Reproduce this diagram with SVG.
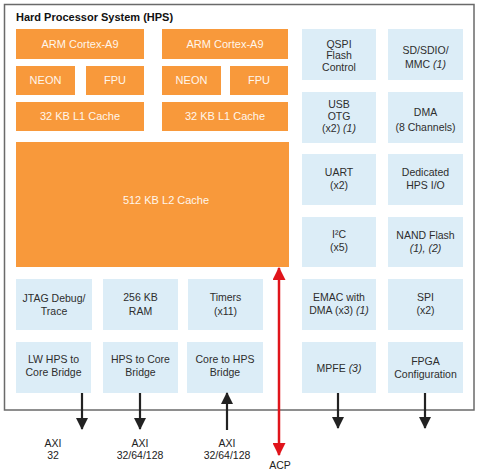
<svg xmlns="http://www.w3.org/2000/svg" width="484" height="472" viewBox="0 0 484 472">
<defs>
<style>
text{font-family:"Liberation Sans",Arial,sans-serif;font-size:10.5px;text-anchor:middle}
.o{fill:#F8993B}
.b{fill:#DCEDF7}
.ot{fill:#FFF6EC;font-size:11px}
.bt{fill:#2E2E2E}
.i{font-style:italic}
.title{font-weight:bold;font-size:11px;text-anchor:start;fill:#111}
.lbl{fill:#222}
.ar{stroke:#222;stroke-width:2.2;fill:none}
.red{stroke:#E0141B;stroke-width:2.5;fill:none}
</style>
<marker id="ah" viewBox="0 0 12 12" refX="11" refY="6" markerWidth="12" markerHeight="12" markerUnits="userSpaceOnUse" orient="auto"><path d="M0,0L12,6L0,12z" fill="#222"/></marker>
<marker id="rh" viewBox="0 0 12 12" refX="11" refY="6" markerWidth="13" markerHeight="13" markerUnits="userSpaceOnUse" orient="auto-start-reverse"><path d="M0,0L12,6L0,12z" fill="#E0141B"/></marker>
</defs>
<rect width="484" height="472" fill="#fff"/>
<rect id="hps" x="4.5" y="4.5" width="469.5" height="405.5" fill="#fff" stroke="#6a6a6a" stroke-width="1.5"/>
<text class="title" x="16" y="21">Hard Processor System (HPS)</text>

<g id="arm1"><rect class="o" x="16" y="29" width="128" height="30"/><text class="ot" x="80" y="48">ARM Cortex-A9</text></g>
<g id="arm2"><rect class="o" x="162" y="29" width="126" height="30"/><text class="ot" x="225" y="48">ARM Cortex-A9</text></g>
<g id="neon1"><rect class="o" x="16" y="66" width="59" height="29"/><text class="ot" x="45.5" y="84">NEON</text></g>
<g id="fpu1"><rect class="o" x="86" y="66" width="58" height="29"/><text class="ot" x="115" y="84">FPU</text></g>
<g id="neon2"><rect class="o" x="162" y="66" width="59" height="29"/><text class="ot" x="191.5" y="84">NEON</text></g>
<g id="fpu2"><rect class="o" x="230" y="66" width="58" height="29"/><text class="ot" x="259" y="84">FPU</text></g>
<g id="l1a"><rect class="o" x="16" y="102" width="128" height="29"/><text class="ot" x="80" y="120">32 KB L1 Cache</text></g>
<g id="l1b"><rect class="o" x="162" y="102" width="126" height="29"/><text class="ot" x="225" y="120">32 KB L1 Cache</text></g>
<g id="l2"><rect class="o" x="16" y="142" width="273" height="125"/><text class="ot" x="166" y="204">512 KB L2 Cache</text></g>

<g id="qspi"><rect class="b" x="302" y="29" width="74" height="51"/><text class="bt" x="339" y="47.5">QSPI</text><text class="bt" x="339" y="59">Flash</text><text class="bt" x="339" y="70.5">Control</text></g>
<g id="sd"><rect class="b" x="388" y="29" width="75" height="51"/><text class="bt" x="425.5" y="54">SD/SDIO/</text><text class="bt" x="425.5" y="68">MMC <tspan class="i">(1)</tspan></text></g>
<g id="usb"><rect class="b" x="302" y="92" width="74" height="51"/><text class="bt" x="339" y="107.5">USB</text><text class="bt" x="339" y="119.5">OTG</text><text class="bt" x="339" y="131.5">(x2) <tspan class="i">(1)</tspan></text></g>
<g id="dma"><rect class="b" x="388" y="92" width="75" height="51"/><text class="bt" x="425.5" y="116">DMA</text><text class="bt" x="425.5" y="131">(8 Channels)</text></g>
<g id="uart"><rect class="b" x="302" y="154" width="74" height="51"/><text class="bt" x="339" y="175.5">UART</text><text class="bt" x="339" y="189">(x2)</text></g>
<g id="dedio"><rect class="b" x="388" y="154" width="75" height="51"/><text class="bt" x="425.5" y="175.5">Dedicated</text><text class="bt" x="425.5" y="189">HPS I/O</text></g>
<g id="i2c"><rect class="b" x="302" y="217" width="74" height="50"/><text class="bt" x="339" y="237.5">I²C</text><text class="bt" x="339" y="251">(x5)</text></g>
<g id="nand"><rect class="b" x="388" y="217" width="75" height="50"/><text class="bt" x="425.5" y="239">NAND Flash</text><text class="bt i" x="425.5" y="252">(1), (2)</text></g>
<g id="emac"><rect class="b" x="302" y="279" width="74" height="51"/><text class="bt" x="339" y="300.5">EMAC with</text><text class="bt" x="339" y="314">DMA (x3) <tspan class="i">(1)</tspan></text></g>
<g id="spi"><rect class="b" x="388" y="279" width="75" height="51"/><text class="bt" x="425.5" y="300.5">SPI</text><text class="bt" x="425.5" y="314">(x2)</text></g>
<g id="mpfe"><rect class="b" x="302" y="342" width="74" height="51"/><text class="bt" x="339" y="371.5">MPFE <tspan class="i">(3)</tspan></text></g>
<g id="fpga"><rect class="b" x="388" y="342" width="75" height="51"/><text class="bt" x="425.5" y="364.5">FPGA</text><text class="bt" x="425.5" y="378">Configuration</text></g>

<g id="jtag"><rect class="b" x="16" y="279" width="76" height="51"/><text class="bt" x="54" y="301.5">JTAG Debug/</text><text class="bt" x="54" y="314.5">Trace</text></g>
<g id="ram"><rect class="b" x="103" y="279" width="75" height="51"/><text class="bt" x="140.5" y="300.5">256 KB</text><text class="bt" x="140.5" y="314.5">RAM</text></g>
<g id="timers"><rect class="b" x="188" y="279" width="75" height="51"/><text class="bt" x="225.5" y="300.5">Timers</text><text class="bt" x="225.5" y="314.5">(x11)</text></g>
<g id="lwbridge"><rect class="b" x="16" y="342" width="75" height="51"/><text class="bt" x="53.5" y="362.5">LW HPS to</text><text class="bt" x="53.5" y="375.5">Core Bridge</text></g>
<g id="h2f"><rect class="b" x="103" y="342" width="75" height="51"/><text class="bt" x="140.5" y="362.5">HPS to Core</text><text class="bt" x="140.5" y="376">Bridge</text></g>
<g id="f2h"><rect class="b" x="187" y="342" width="76" height="51"/><text class="bt" x="225" y="362.5">Core to HPS</text><text class="bt" x="225" y="376">Bridge</text></g>

<g id="connectors">
<line class="ar" x1="82" y1="393" x2="82" y2="429" marker-end="url(#ah)"/>
<line class="ar" x1="140" y1="393" x2="140" y2="429" marker-end="url(#ah)"/>
<line class="ar" x1="227" y1="430" x2="227" y2="393" marker-end="url(#ah)"/>
<line class="ar" x1="338" y1="393" x2="338" y2="428" marker-end="url(#ah)"/>
<line class="ar" x1="425" y1="393" x2="425" y2="428" marker-end="url(#ah)"/>
<line class="red" x1="279" y1="268" x2="279" y2="455" marker-start="url(#rh)" marker-end="url(#rh)"/>
</g>

<g id="labels">
<text class="lbl" x="53" y="447">AXI</text><text class="lbl" x="53" y="459">32</text>
<text class="lbl" x="140" y="447">AXI</text><text class="lbl" x="140" y="459">32/64/128</text>
<text class="lbl" x="227" y="447">AXI</text><text class="lbl" x="227" y="459">32/64/128</text>
<text class="lbl" x="280" y="469">ACP</text>
</g>
</svg>
